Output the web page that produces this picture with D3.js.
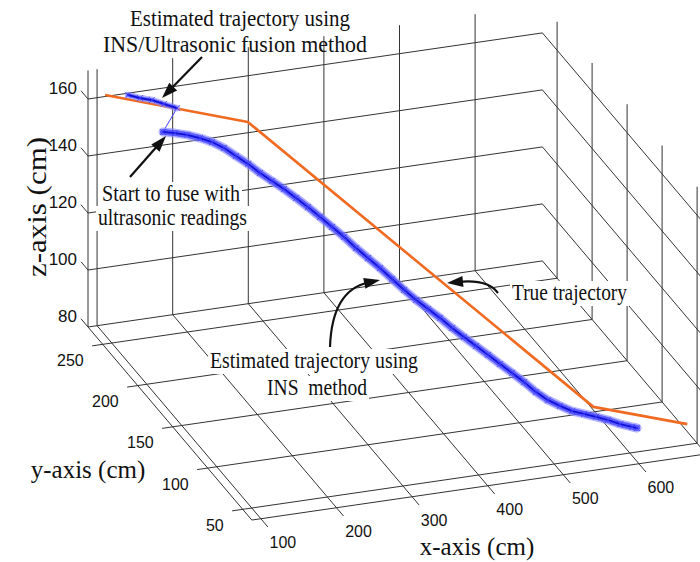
<!DOCTYPE html>
<html><head><meta charset="utf-8">
<script src="https://cdn.jsdelivr.net/npm/d3@7"></script>
<style>html,body{margin:0;padding:0;background:#fff;} svg{display:block;}</style>
</head><body>
<svg id="chart" width="700" height="562"></svg>
<script>
// ---- data ----
const xDomain = [88, 689], yDomain = [37, 271], zDomain = [80, 170];
const xTicks = [100, 200, 300, 400, 500, 600];
const yTicks = [50, 100, 150, 200, 250];
const zTicks = [80, 100, 120, 140, 160];
const xLabel = "x-axis (cm)", yLabel = "y-axis (cm)", zLabel = "z-axis (cm)";

const trueX = [105, 280, 561, 676];
const trueY = [265, 250, 60, 50];
const trueZ = [162.5, 150.6, 94.8, 87.2];

const fusedX = [128.9, 144.7, 160.6, 176.5, 193.7];
const fusedY = [258, 258, 258, 258, 258];
const fusedZ = [163.6, 161.9, 160.6, 158.6, 156.5];

const insX = [173.3,184.3,195.2,207.1,218.0,229.0,239.9,250.9,261.8,272.8,283.7,294.7,305.6,316.6,327.5,338.5,349.5,360.4,371.4,382.3,393.3,404.2,415.2,426.1,437.1,448.0,459.0,469.9,480.9,491.8,502.8,513.7,524.7,535.6,546.6,557.5,568.5,579.5,590.4,601.4,605.9];
const insY = [256.0,250.7,245.4,239.6,234.3,229.0,223.7,218.3,213.0,207.7,202.4,197.1,191.8,186.4,181.1,175.8,170.5,165.2,159.9,154.6,149.2,143.9,138.6,133.3,128.0,122.7,117.3,112.0,106.7,101.4,96.1,90.8,85.4,80.1,74.8,69.5,64.2,58.9,53.5,48.2,46.0];
const insZ = [149.5,150.2,150.7,150.8,150.5,149.5,147.8,146.2,144.1,142.4,140.7,138.7,136.6,134.3,131.9,129.5,126.7,124.3,121.9,119.2,116.5,114.1,112.0,110.0,107.6,105.5,103.5,101.5,99.4,97.4,95.3,92.9,91.2,90.3,89.6,89.7,89.8,89.8,89.5,89.6,89.7];

const annFusion = ["Estimated trajectory using", "INS/Ultrasonic fusion method"];
const annStart = ["Start to fuse with", "ultrasonic readings"];
const annINS = ["Estimated trajectory using", "INS  method"];
const annTrue = ["True trajectory"];

// ---- projection built from d3 scales ----
const svg = d3.select("#chart");
const fx = d3.scaleLinear().domain(xDomain).range([0, 1]);
const fy = d3.scaleLinear().domain([yDomain[1], yDomain[0]]).range([0, 1]);
const fz = d3.scaleLinear().domain(zDomain).range([0, 1]);
const O = [88, 327], EX = [454.4, -66.1], EY = [163.8, 193.05], EZ = [0, -256.5];
function P(x, y, z) {
  const a = fx(x), b = fy(y), c = fz(z);
  return [O[0] + a*EX[0] + b*EY[0] + c*EZ[0], O[1] + a*EX[1] + b*EY[1] + c*EZ[1]];
}
const line = d3.line();
const [x0, x1] = xDomain, [y0, y1] = yDomain, [z0, z1] = zDomain;

const gGrid = svg.append("g").attr("fill", "none").attr("stroke", "#333").attr("stroke-width", 1);
function poly(pts) { gGrid.append("path").attr("d", line(pts.map(p => P(...p)))); }

// floor grid
xTicks.forEach(x => poly([[x, y1, z0], [x, y0 - 10, z0]]));
yTicks.forEach(y => poly([[x0 - 14, y, z0], [x1, y, z0]]));
// back wall (y = ymax)
xTicks.forEach(x => poly([[x, y1, z0], [x, y1, z1]]));
zTicks.forEach(z => poly([[x0, y1 + 10, z], [x0, y1, z], [x1, y1, z]]));
// right wall (x = xmax)
yTicks.forEach(y => poly([[x1, y, z0], [x1, y, z1]]));
zTicks.forEach(z => poly([[x1, y1, z], [x1, y0, z]]));
// axis lines
poly([[x0, y1, z0], [x0, y0, z0]]);
poly([[x0, y0, z0], [x1, y0, z0]]);
poly([[x0, y1, z0], [x0, y1, z1]]);

// tick labels
const gLab = svg.append("g").attr("font-family", "Liberation Sans, Arial, sans-serif").attr("font-size", 16).attr("fill", "#111");
xTicks.forEach(x => { const p = P(x, y0, z0);
  gLab.append("text").attr("x", p[0] + 22).attr("y", p[1] + 24).attr("dy", "0.35em").attr("text-anchor", "middle").text(x); });
yTicks.forEach(y => { const p = P(x0, y, z0);
  gLab.append("text").attr("x", p[0] - 19).attr("y", p[1] + 16).attr("dy", "0.35em").attr("text-anchor", "end").text(y); });
zTicks.forEach(z => { const p = P(x0, y1, z);
  gLab.append("text").attr("x", p[0] - 11).attr("y", p[1] - 11).attr("dy", "0.35em").attr("text-anchor", "end").attr("font-size", 17).text(z); });

// axis titles
const serif = "Liberation Serif, Times New Roman, serif";
svg.append("text").attr("x", 477).attr("y", 555).attr("text-anchor", "middle").attr("font-family", serif).attr("font-size", 25).attr("fill", "#111").text(xLabel);
svg.append("text").attr("x", 88).attr("y", 478).attr("text-anchor", "middle").attr("font-family", serif).attr("font-size", 25).attr("fill", "#111").text(yLabel);
svg.append("text").attr("transform", "translate(46,207) rotate(-90)").attr("text-anchor", "middle").attr("font-family", serif).attr("font-size", 27).attr("fill", "#111")
  .attr("textLength", 140).attr("lengthAdjust", "spacingAndGlyphs").text(zLabel);

// ---- trajectories ----
const truePts = trueX.map((x, i) => P(x, trueY[i], trueZ[i]));
svg.append("path").attr("d", line(truePts)).attr("fill", "none").attr("stroke", "#f06a22").attr("stroke-width", 2.6).attr("stroke-linejoin", "round");

function blueBand(pts, w) {
  const g = svg.append("g").attr("fill", "none").attr("stroke-linejoin", "round").attr("stroke-linecap", "round");
  g.append("path").attr("d", line(pts)).attr("stroke", "#8c8cff").attr("stroke-width", w).attr("opacity", 0.65);
  g.append("path").attr("d", line(pts)).attr("stroke", "#4040ff").attr("stroke-width", w - 3).attr("stroke-dasharray", "1.5 1.5").attr("opacity", 0.75);
  g.append("path").attr("d", line(pts)).attr("stroke", "#1010d8").attr("stroke-width", 1.8);
  const s = 2.8;
  pts.forEach(p => {
    g.append("path").attr("d", `M${p[0]-s},${p[1]-s}L${p[0]+s},${p[1]+s}M${p[0]-s},${p[1]+s}L${p[0]+s},${p[1]-s}`)
      .attr("stroke", "#3a3aff").attr("stroke-width", 1).attr("opacity", 0.7);
  });
}
const fusedPts = fusedX.map((x, i) => P(x, fusedY[i], fusedZ[i]));
const insPts = insX.map((x, i) => P(x, insY[i], insZ[i]));
svg.append("path").attr("d", line([fusedPts[fusedPts.length - 1], insPts[0]])).attr("stroke", "#4444ff").attr("stroke-width", 1).attr("fill", "none");
blueBand(fusedPts, 6.5);
blueBand(insPts, 9);

// ---- annotations ----
function annot(lines, xs, ys, lens, bg) {
  lines.forEach((t, i) => {
    if (bg) svg.append("rect").attr("x", xs[i] - 2).attr("y", ys[i] - 19).attr("width", lens[i] + 4).attr("height", 25).attr("fill", "#fff");
    svg.append("text").attr("x", xs[i]).attr("y", ys[i]).attr("font-family", serif).attr("font-size", 24).attr("fill", "#111")
      .style("white-space", "pre").attr("textLength", lens[i]).attr("lengthAdjust", "spacingAndGlyphs").text(t);
  });
}
annot(annFusion, [130, 103], [26, 52], [220, 264], false);
annot(annStart, [102, 98], [201, 225], [138, 149], true);
annot(annINS, [210, 267], [368, 395], [208, 100], true);
annot(annTrue, [512], [300], [115], true);

function arrowHead(tip, from) {
  const dx = tip[0] - from[0], dy = tip[1] - from[1], L = Math.hypot(dx, dy);
  const ux = dx / L, uy = dy / L, hl = 16, hw = 5.5;
  const bx = tip[0] - ux*hl, by = tip[1] - uy*hl;
  svg.append("path").attr("d", `M${tip[0]},${tip[1]}L${bx - uy*hw},${by + ux*hw}L${bx + uy*hw},${by - ux*hw}Z`).attr("fill", "#111");
  return [tip[0] - ux*hl*0.7, tip[1] - uy*hl*0.7];
}
const aStyle = s => s.attr("fill", "none").attr("stroke", "#111").attr("stroke-width", 2.2);
{ const e = arrowHead([162, 98], [202, 57]); aStyle(svg.append("path").attr("d", `M202,57L${e[0]},${e[1]}`)); }
{ const e = arrowHead([166, 136], [130, 177]); aStyle(svg.append("path").attr("d", `M130,177L${e[0]},${e[1]}`)); }
{ const e = arrowHead([380, 280], [332, 290]); aStyle(svg.append("path").attr("d", `M330,347Q332,290 ${e[0]},${e[1]}`)); }
{ const e = arrowHead([447, 283], [488, 279]); aStyle(svg.append("path").attr("d", `M498,293Q488,279 ${e[0]},${e[1]}`)); }
</script>
</body></html>
